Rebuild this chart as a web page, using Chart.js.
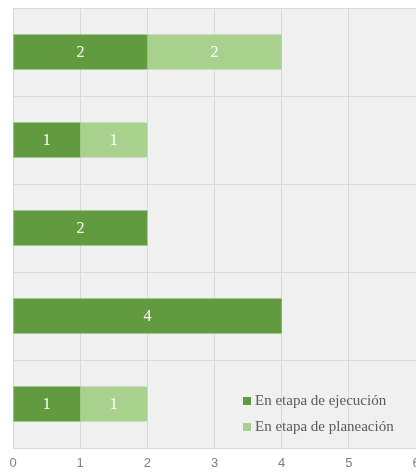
<!DOCTYPE html>
<html><head><meta charset="utf-8">
<script src="https://cdn.jsdelivr.net/npm/chart.js@4/dist/chart.umd.min.js"></script>
<style>
html,body{margin:0;padding:0;background:#fff;overflow:hidden;width:416px;height:472px;}
#wrap{width:440px;height:472px;}
</style></head><body>
<div id="wrap"><canvas id="c" width="440" height="472"></canvas></div>
<script>
const categories = ['A','B','C','D','E'];
const ejecucion = [2,1,2,4,1];
const planeacion = [2,1,0,0,1];
const xTicks = [0,1,2,3,4,5,6];
const seriesNames = ['En etapa de ejecución','En etapa de planeación'];
const seriesColors = ['#629b3f','#a9d18e'];

const bgPlugin = {
  id:'bg',
  beforeDraw(chart){
    const {ctx, chartArea:a} = chart;
    ctx.save();
    ctx.fillStyle = '#f0f0f0';
    ctx.fillRect(a.left, a.top, a.right-a.left, a.bottom-a.top);
    ctx.restore();
  }
};
const labelPlugin = {
  id:'lbl',
  afterDatasetsDraw(chart){
    const ctx = chart.ctx;
    ctx.save();
    ctx.font = '16px "Liberation Serif"';
    ctx.fillStyle = '#ffffff';
    ctx.textAlign = 'center';
    ctx.textBaseline = 'middle';
    chart.data.datasets.forEach((ds, di) => {
      const meta = chart.getDatasetMeta(di);
      meta.data.forEach((bar, i) => {
        const v = ds.data[i];
        if (!v) return;
        const x = (bar.x + bar.base) / 2;
        ctx.fillText(String(v), x, bar.y + 1);
      });
    });
    ctx.restore();
  }
};
const legendPlugin = {
  id:'leg',
  afterDraw(chart){
    const {ctx} = chart;
    ctx.save();
    ctx.font = '15px "Liberation Serif"';
    ctx.textBaseline = 'middle';
    ctx.textAlign = 'left';
    chart.data.datasets.forEach((ds, di) => {
      const y = 401 + di * 26;
      const x = 243;
      ctx.fillStyle = ds.backgroundColor;
      ctx.fillRect(x, y - 4, 8, 8);
      ctx.fillStyle = '#595959';
      ctx.fillText(ds.label, x + 12, y);
    });
    ctx.restore();
  }
};

new Chart(document.getElementById('c'), {
  type:'bar',
  data:{
    labels: categories,
    datasets:[
      {label: seriesNames[0], data: ejecucion, backgroundColor: seriesColors[0], barPercentage:0.4, categoryPercentage:1},
      {label: seriesNames[1], data: planeacion, backgroundColor: seriesColors[1], barPercentage:0.4, categoryPercentage:1}
    ]
  },
  options:{
    indexAxis:'y',
    responsive:false,
    animation:false,
    layout:{padding:{top:8,left:13,right:24,bottom:0}},
    plugins:{legend:{display:false}, tooltip:{enabled:false}},
    scales:{
      x:{
        stacked:true, min:0, max:6,
        afterBuildTicks(axis){ axis.ticks = xTicks.map(v=>({value:v})); },
        afterFit(axis){ axis.height = 24; },
        grid:{color:'#d9d9d9', drawTicks:false},
        border:{display:true, color:'#d9d9d9'},
        ticks:{padding:8, color:'#808080', font:{family:'"Liberation Sans"', size:13}}
      },
      y:{
        stacked:true,
        grid:{color:'#d9d9d9', drawTicks:false, offset:true},
        border:{display:true, color:'#d9d9d9'},
        ticks:{display:false}
      }
    }
  },
  plugins:[bgPlugin, labelPlugin, legendPlugin]
});
</script>
</body></html>
